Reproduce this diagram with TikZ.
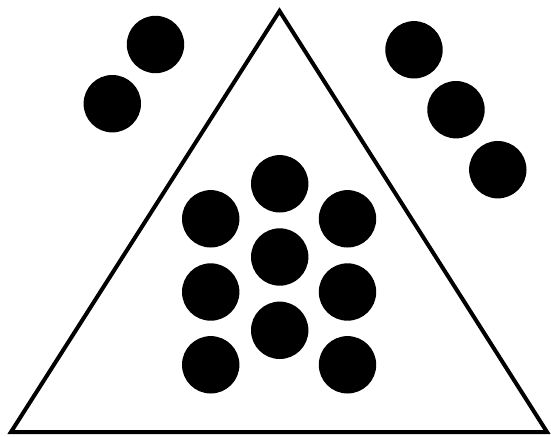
\documentclass[tikz,border=0pt]{standalone}
\begin{document}
\begin{tikzpicture}[x=1pt,y=-1pt,
  dot/.style={circle,fill=black,draw=none,minimum size=57.4pt,inner sep=0pt}]
\useasboundingbox (0,0) rectangle (551,436);
\coordinate (apex) at (279.5,11);
\coordinate (bl) at (11,432);
\coordinate (br) at (547,432);
\draw[line width=4pt,line join=miter] (apex) -- (bl) -- (br) -- cycle;
\node[dot] (tl1) at (155.5,44.5) {};
\node[dot] (tl2) at (112.3,103.7) {};
\node[dot] (tr1) at (414,49.8) {};
\node[dot] (tr2) at (456,109.7) {};
\node[dot] (tr3) at (497.8,169.7) {};
\node[dot] (m1) at (279.7,183.8) {};
\node[dot] (m2) at (279.7,257) {};
\node[dot] (m3) at (279.7,330.3) {};
\node[dot] (l1) at (210.7,218.8) {};
\node[dot] (l2) at (210.7,292) {};
\node[dot] (l3) at (210.7,364.8) {};
\node[dot] (r1) at (347.5,218.8) {};
\node[dot] (r2) at (347.5,292) {};
\node[dot] (r3) at (347.5,364.8) {};
\end{tikzpicture}
\end{document}
